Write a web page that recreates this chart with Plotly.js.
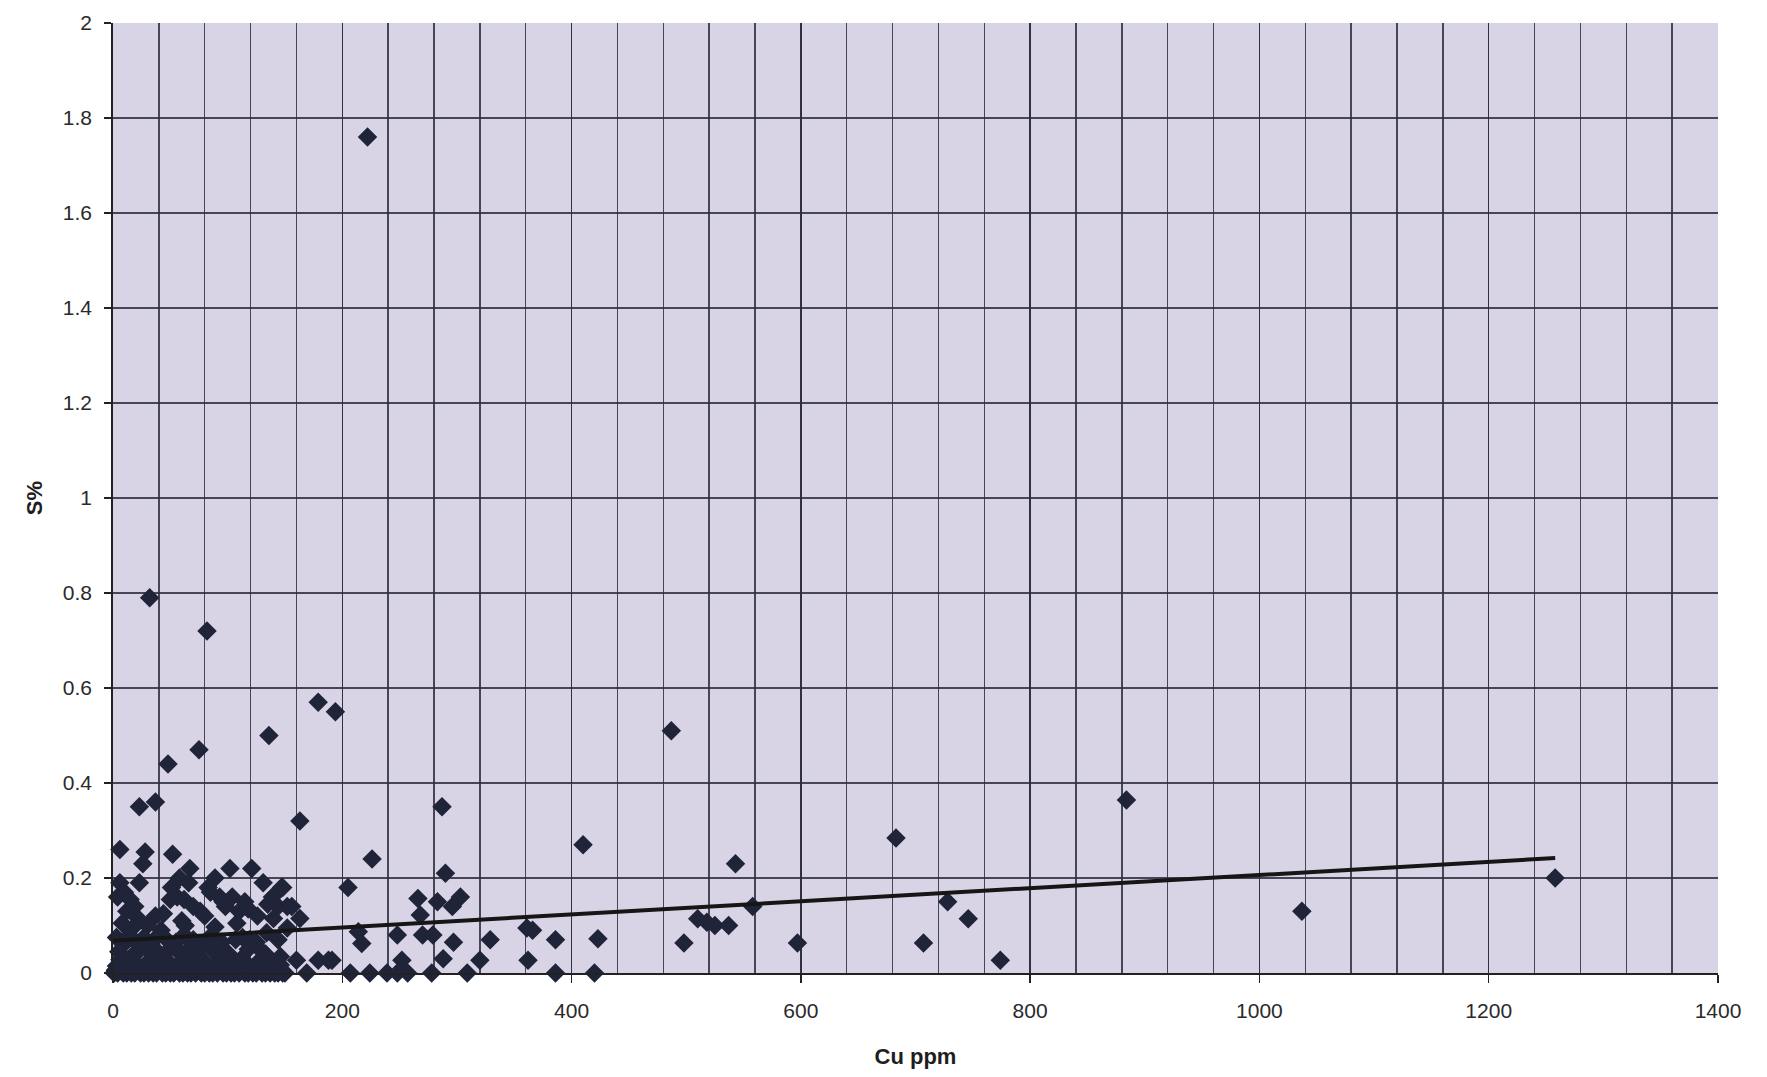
<!DOCTYPE html>
<html>
<head>
<meta charset="utf-8">
<script src="https://cdn.plot.ly/plotly-3.0.1.min.js"></script>
<style>
  html, body { margin: 0; padding: 0; background: #ffffff; }
  #chart { width: 1767px; height: 1077px; }
</style>
</head>
<body>
<div id="chart"></div>
<script>
// Cu (ppm) vs S (%) assay pairs, grouped by where they sit on the plot.

// Scattered samples: high-S outliers and higher-Cu samples
const scatterCu = [222, 32, 82, 179, 194, 136, 75, 48, 487, 23, 37, 163, 287, 410, 884, 683, 543, 1258, 1037,
  728, 746, 707, 774, 597, 498, 558, 510, 518, 525, 537, 423, 386, 361, 366, 362, 329, 320, 297, 288,
  270, 279, 268, 266, 283, 296, 303, 290, 248, 252, 214, 217, 205, 226, 191, 188, 179, 160];
const scatterS = [1.76, 0.79, 0.72, 0.57, 0.55, 0.50, 0.47, 0.44, 0.51, 0.35, 0.36, 0.32, 0.35, 0.27, 0.364, 0.284, 0.23, 0.20, 0.13,
  0.15, 0.114, 0.063, 0.027, 0.063, 0.063, 0.14, 0.114, 0.107, 0.10, 0.10, 0.072, 0.07, 0.095, 0.09, 0.027, 0.07, 0.027, 0.065, 0.03,
  0.08, 0.08, 0.122, 0.157, 0.15, 0.14, 0.16, 0.21, 0.08, 0.027, 0.087, 0.062, 0.18, 0.24, 0.027, 0.027, 0.027, 0.027];

// Samples below detection for S beyond 150 ppm Cu
const zeroCu = [150, 169, 207, 224, 239, 248, 257, 278, 309, 386, 420];
const zeroS  = [0, 0, 0, 0, 0, 0, 0, 0, 0, 0, 0];

// Low-Cu cluster, S 0.09 - 0.26 %
const clusterCu = [6, 28, 26, 52, 67, 102, 121, 89, 58, 6, 23, 131, 147, 4, 10, 15, 83, 93, 104, 51,
  50, 56, 62, 76, 115, 139, 144, 152, 156, 148, 163, 152, 98, 19, 22, 37, 44, 60, 63, 126,
  140, 89, 70, 80, 110, 30, 12, 66, 85, 96, 108, 118, 135, 8, 17, 42];
const clusterS = [0.26, 0.255, 0.23, 0.25, 0.22, 0.22, 0.22, 0.20, 0.20, 0.19, 0.19, 0.19, 0.18, 0.16, 0.17, 0.155, 0.18, 0.16, 0.16, 0.18,
  0.155, 0.16, 0.155, 0.13, 0.15, 0.16, 0.14, 0.14, 0.14, 0.18, 0.115, 0.095, 0.14, 0.14, 0.115, 0.12, 0.125, 0.11, 0.10, 0.12,
  0.115, 0.097, 0.14, 0.12, 0.13, 0.10, 0.13, 0.19, 0.17, 0.15, 0.105, 0.135, 0.145, 0.105, 0.095, 0.09];

// Low-Cu samples, S 0.03 - 0.09 %
const lowCu = [3, 9, 14, 20, 27, 33, 40, 47, 55, 62, 70, 78, 84, 95, 107, 113, 119, 125, 134, 144,
  5, 16, 30, 41, 57, 72, 88, 101, 118, 133, 146, 24, 51, 66, 92, 128];
const lowS = [0.075, 0.06, 0.08, 0.065, 0.075, 0.06, 0.08, 0.07, 0.065, 0.08, 0.07, 0.06, 0.075, 0.065, 0.07, 0.075, 0.07, 0.065, 0.085, 0.07,
  0.045, 0.035, 0.05, 0.04, 0.045, 0.035, 0.045, 0.04, 0.05, 0.04, 0.035, 0.05, 0.055, 0.05, 0.055, 0.05];

// Low-Cu samples at or near S detection limit
const baseCu = [1, 4, 9, 12, 16, 19, 24, 27, 31, 35, 38, 43, 46, 50, 53, 58, 61, 65, 68, 72,
  77, 80, 84, 87, 91, 96, 99, 103, 106, 110, 115, 118, 122, 125, 130, 133, 137, 141, 144, 148,
  3, 11, 17, 22, 29, 36, 41, 48, 55, 60, 66, 74, 81, 89, 94, 100, 108, 113, 120, 127, 135, 139, 146,
  2, 7, 14, 20, 26, 33, 39, 45, 52, 57, 63, 70, 76, 83, 88, 93, 98, 104, 111, 117, 123, 129, 134, 140, 147,
  6, 18, 34, 47, 63, 79, 97, 112, 128, 143];
const baseS = [0, 0, 0, 0, 0, 0, 0, 0, 0, 0, 0, 0, 0, 0, 0, 0, 0, 0, 0, 0,
  0, 0, 0, 0, 0, 0, 0, 0, 0, 0, 0, 0, 0, 0, 0, 0, 0, 0, 0, 0,
  0.015, 0.012, 0.018, 0.014, 0.02, 0.012, 0.016, 0.018, 0.013, 0.015, 0.02, 0.012, 0.017, 0.015, 0.013, 0.019, 0.014, 0.016, 0.012, 0.018,
  0.015, 0.013, 0.017,
  0.006, 0.005, 0.007, 0.006, 0.005, 0.008, 0.006, 0.005, 0.007, 0.006, 0.005, 0.007, 0.006, 0.008, 0.005, 0.006, 0.007, 0.005, 0.006, 0.008,
  0.005, 0.007, 0.006, 0.005, 0.007,
  0.028, 0.026, 0.03, 0.027, 0.029, 0.026, 0.028, 0.03, 0.027, 0.026];

// Linear trend line end points
const trendCu = [0, 1258];
const trendS  = [0.068, 0.242];

// Axis ticks
const xTicks = [0, 200, 400, 600, 800, 1000, 1200, 1400];
const yTicks = [0, 0.2, 0.4, 0.6, 0.8, 1, 1.2, 1.4, 1.6, 1.8, 2];

const cuAll = [].concat(scatterCu, zeroCu, clusterCu, lowCu, baseCu);
const sAll  = [].concat(scatterS, zeroS, clusterS, lowS, baseS);

const gridColor = 'rgba(45,45,60,0.85)';
const tickFont = { family: 'Liberation Sans, Arial, sans-serif', size: 21, color: '#2a2a2a' };
const titleFont = { family: 'Liberation Sans, Arial, sans-serif', size: 22, color: '#1e1e1e', weight: 'bold' };

const traces = [
  {
    type: 'scatter',
    mode: 'markers',
    x: cuAll,
    y: sAll,
    cliponaxis: false,
    marker: { symbol: 'diamond', size: 15, color: '#1f2439', line: { width: 0 } },
    hoverinfo: 'x+y'
  },
  {
    type: 'scatter',
    mode: 'lines',
    x: trendCu,
    y: trendS,
    line: { color: '#161616', width: 4 },
    hoverinfo: 'skip'
  }
];

const layout = {
  width: 1767,
  height: 1077,
  showlegend: false,
  paper_bgcolor: '#ffffff',
  plot_bgcolor: '#d8d4e6',
  margin: { l: 113, r: 49, t: 23, b: 104 },
  xaxis: {
    range: [0, 1400],
    tickvals: xTicks,
    ticktext: xTicks.map(String),
    ticks: 'outside',
    ticklen: 8,
    tickwidth: 1.3,
    tickcolor: '#222',
    ticklabelstandoff: 10,
    tickfont: tickFont,
    showgrid: true,
    gridcolor: gridColor,
    gridwidth: 1.3,
    minor: { dtick: 40, tick0: 0, showgrid: true, gridcolor: gridColor, gridwidth: 1.3, ticks: '' },
    showline: true,
    linecolor: '#222',
    linewidth: 1.6,
    zeroline: false,
    title: { text: 'Cu ppm', font: titleFont, standoff: 28 }
  },
  yaxis: {
    range: [0, 2],
    tickvals: yTicks,
    ticktext: yTicks.map(String),
    ticks: 'outside',
    ticklen: 7,
    tickwidth: 1.3,
    tickcolor: '#222',
    ticklabelstandoff: 8,
    tickfont: tickFont,
    showgrid: true,
    gridcolor: gridColor,
    gridwidth: 1.3,
    showline: true,
    linecolor: '#222',
    linewidth: 1.8,
    zeroline: false,
    title: { text: 'S%', font: titleFont, standoff: 14 }
  }
};

Plotly.newPlot('chart', traces, layout, { staticPlot: true });
</script>
</body>
</html>
